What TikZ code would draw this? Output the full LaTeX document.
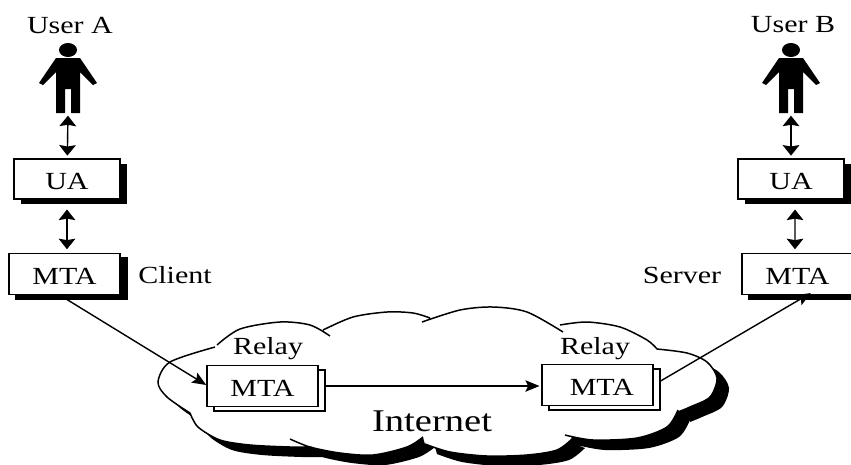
\documentclass[tikz,border=0pt]{standalone}
\usepackage{fontspec}
\newfontfamily\diagramfont[FakeStretch=1.22]{Liberation Serif}
\usetikzlibrary{arrows.meta, shadows}

%outline of the cloud, lobe by lobe; #1 joins the lobes
\newcommand{\cloudpath}[1]{
	plot [smooth] coordinates {(217,345) (240,329) (280,322) (310,325) (330,336)}
	#1 plot [smooth] coordinates {(323,330) (353,317) (387,312) (413,313) (430,318)}
	#1 plot [smooth] coordinates {(422,322) (460,310) (493,307) (527,312) (563,332)}
	#1 plot [smooth] coordinates {(560,325) (587,322) (620,327) (647,340) (657,349)}
	#1 plot [smooth] coordinates {(657,349) (687,353) (707,362) (717,378) (710,397) (690,407) (678,412)}
	#1 plot [smooth] coordinates {(678,410) (667,427) (637,438) (593,440) (565,435)}
	#1 plot [smooth] coordinates {(573,438) (557,450) (527,455) (487,456) (450,452) (425,444)}
	#1 plot [smooth] coordinates {(423,437) (407,447) (373,455) (340,453) (310,447) (290,439)}
	#1 plot [smooth] coordinates {(312,447) (290,447) (250,445) (220,440) (198,427) (190,413)}
	#1 plot [smooth] coordinates {(190,413) (167,397) (158,382) (170,362) (215,347)}
}

\tikzset{
	label text/.style={font=\diagramfont\fontsize{14}{16}\selectfont, inner sep=0pt},
	box text/.style={label text, text height=11.5pt, text depth=0pt},
	agent box/.style={box text, draw, line width=0.85pt, fill=white, minimum width=2.12cm, minimum height=0.8cm,
		drop shadow={shadow xshift=0.14cm, shadow yshift=-0.09cm, opacity=1, fill=black}},
	relay box/.style={box text, draw, line width=0.85pt, fill=white, minimum width=2.22cm, minimum height=0.82cm,
		copy shadow={shadow xshift=0.14cm, shadow yshift=-0.09cm, draw=black, fill=white, line width=1.1pt}},
	double arrow/.style={{Stealth[length=6pt, width=9.5pt, inset=0.8pt]}-{Stealth[length=6pt, width=9.5pt, inset=0.8pt]}, line width=0.8pt},
	single arrow/.style={-{Stealth[length=8pt, width=6.5pt, inset=1.5pt]}, line width=0.8pt},
}

\begin{document}
\begin{tikzpicture}[x=0.02cm, y=-0.02cm]
		%margins of the picture
		\clip (0,0) rectangle (851,464);
		\useasboundingbox (0,0) rectangle (851,464);
		
		%cloud
		\fill [black, shift={(12,10)}] \cloudpath{--} -- cycle;
		\fill [white] \cloudpath{--} -- cycle;
		\draw [line width=0.85pt] \cloudpath{};
		\node [label text, font=\diagramfont\fontsize{18}{20}\selectfont] (internet) at (432,421) {Internet};
		
		%users
		\foreach \name/\X/\text in {userA/68/User A, userB/791/User B}{
			\fill (\X,50) ellipse [x radius=9, y radius=7];
			\fill (\X-5,58) -- (\X+5,58) -- (\X+12,58) -- (\X+29,83) -- (\X+25,85) -- (\X+12,72) -- (\X+12,113)
				-- (\X+3,113) -- (\X+3,89) -- (\X-3,89) -- (\X-3,113) -- (\X-12,113) -- (\X-12,72)
				-- (\X-25,85) -- (\X-29,83) -- (\X-12,58) -- cycle;
			\coordinate (\name) at (\X,113);
			\node [label text] (\name label) at (\X+2,25) {\text};
		}
		
		%boxes
		\node [agent box] (uaA) at (67,179) {UA};
		\node [agent box] (uaB) at (791,179) {UA};
		\node [relay box, drop shadow={shadow xshift=0.14cm, shadow yshift=-0.09cm, opacity=1, fill=black}] (mtaA) at (64.5,274) {MTA};
		\node [relay box, drop shadow={shadow xshift=0.14cm, shadow yshift=-0.09cm, opacity=1, fill=black}] (mtaB) at (797.5,274) {MTA};
		\node [relay box] (relayA) at (262.5,386) {MTA};
		\node [relay box] (relayB) at (597.5,385) {\hskip 5pt MTA};
		
		%labels beside the boxes
		\node [label text] (client) at (175,275) {Client};
		\node [label text] (server) at (682,275) {Server};
		\node [label text] (relayA label) at (268,349) {Relay};
		\node [label text] (relayB label) at (595,349) {Relay};
		
		%connectors
		\draw [double arrow, shorten <=1.5pt, shorten >=1.5pt] (userA) -- (uaA);
		\draw [double arrow, shorten <=1.5pt, shorten >=1.5pt] (userB) -- (uaB);
		\draw [double arrow, shorten <=6pt, shorten >=2pt] (uaA) ++(0,20) -- (mtaA.north -| uaA);
		\draw [double arrow, shorten <=6pt, shorten >=2pt] (uaB) ++(4,20) -- ([xshift=0.08cm]mtaB.north -| uaB);
		\draw [single arrow] ([xshift=-0.09cm]mtaA.south) -- ([yshift=0.02cm]relayA.west);
		\draw [single arrow, shorten <=4pt, shorten >=1pt] (relayA.east) -- (relayA.east -| relayB.west);
		\draw [single arrow, shorten <=4pt, shorten >=-2.5pt] (relayB.east) -- ([xshift=0.19cm]mtaB.south);
	\end{tikzpicture}
\end{document}
